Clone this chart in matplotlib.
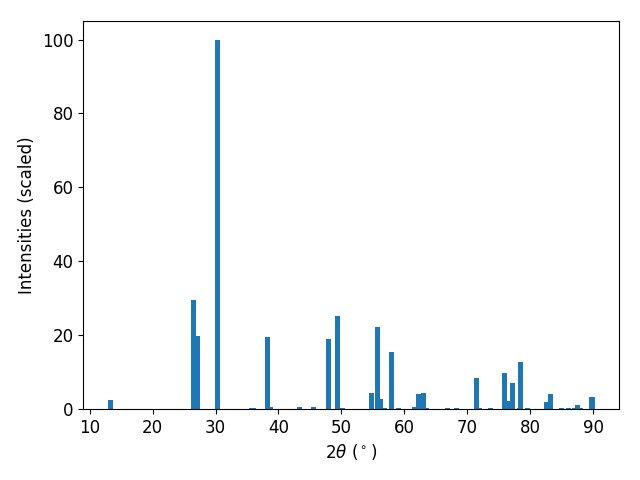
import matplotlib
matplotlib.use("Agg")
import matplotlib.pyplot as plt

# peak positions (2theta, degrees) and scaled intensities
two_theta = [13.25, 26.43, 27.06, 30.24, 35.7, 36.1, 38.33, 38.8, 43.4, 45.5,
             48.0, 49.4, 50.2, 54.8, 56.2, 55.8, 56.8, 57.9, 59.1, 61.6,
             62.3, 63.1, 63.5, 66.9, 68.3, 71.5, 71.9, 73.6, 76.7, 75.95,
             77.1, 78.3, 78.5, 79.6, 82.5, 83.2, 85.0, 86.1, 87.1, 87.5,
             87.9, 89.8]
intensity = [2.4, 29.5, 19.8, 100.0, 0.3, 0.3, 19.5, 0.5, 0.5, 0.5,
             19.0, 25.2, 0.3, 4.3, 2.7, 22.2, 0.3, 15.4, 0.3, 0.5,
             4.1, 4.3, 0.3, 0.3, 0.3, 8.4, 0.3, 0.3, 2.2, 9.8,
             7.0, 0.3, 12.7, 0.3, 1.9, 4.1, 0.3, 0.3, 0.3, 1.1,
             0.3, 3.3]

plt.rcParams["font.size"] = 12

fig, ax = plt.subplots(figsize=(6.4, 4.8), dpi=100)
ax.bar(two_theta, intensity, width=0.8)
ax.set_xlabel(r"2$\theta$ ($^\circ$)")
ax.set_ylabel("Intensities (scaled)")
fig.subplots_adjust(left=0.13, right=0.967, top=0.956, bottom=0.148)
fig.savefig("out.png", dpi=100)
